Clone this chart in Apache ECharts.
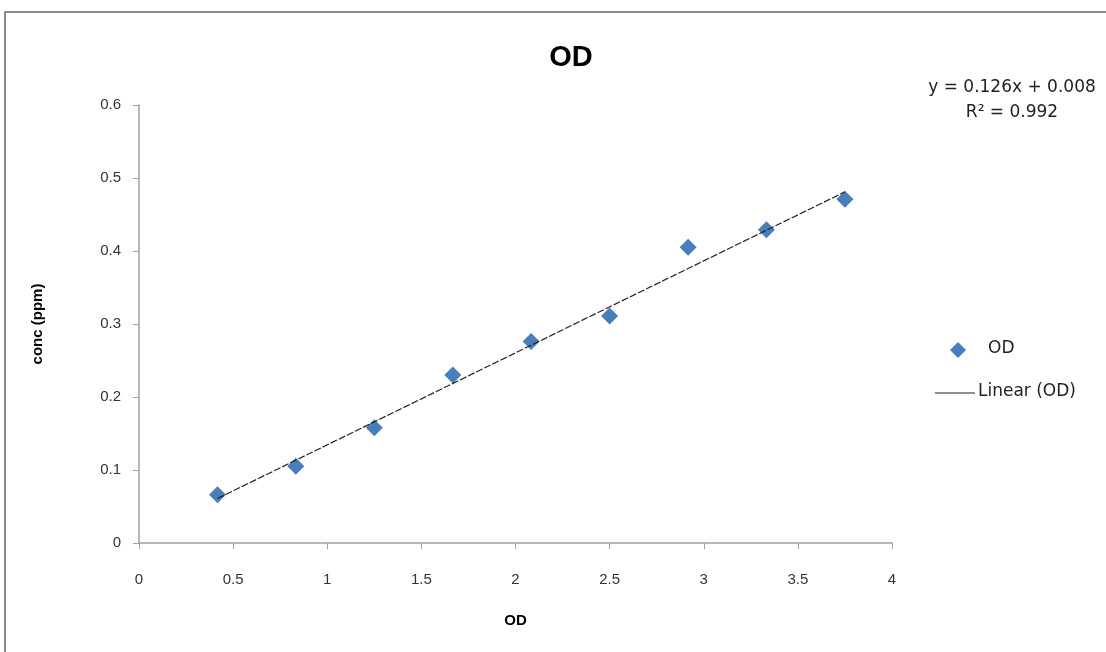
<!DOCTYPE html>
<html>
<head>
<meta charset="utf-8">
<script src="https://cdn.jsdelivr.net/npm/echarts@6/dist/echarts.min.js"></script>
<style>html,body{margin:0;padding:0;background:#fff;}#c{width:1106px;height:652px;}</style>
</head>
<body>
<div id="c"></div>
<script>
const odValues = [0.417, 0.833, 1.25, 1.667, 2.083, 2.5, 2.917, 3.333, 3.75];
const concValues = [0.066, 0.105, 0.158, 0.230, 0.276, 0.311, 0.405, 0.429, 0.471];
const trendX = [0.417, 3.75];
const trendY = [0.061, 0.481];
const equationText = 'y = 0.126x + 0.008';
const r2Text = 'R² = 0.992';
const titleText = 'OD';
const xAxisName = 'OD';
const yAxisName = 'conc (ppm)';
const seriesName = 'OD';
const trendName = 'Linear (OD)';

const font = 'Liberation Sans, Arial, sans-serif';
const wide = 'DejaVu Sans, Liberation Sans, sans-serif';
const chart = echarts.init(document.getElementById('c'), null, {renderer: 'canvas'});
chart.setOption({
  animation: false,
  backgroundColor: '#fff',
  title: {text: titleText, left: 566, top: 38, textAlign: 'center',
    textStyle: {fontFamily: font, fontSize: 29, fontWeight: 'bold', color: '#000'}},
  grid: {left: 139, right: 214, top: 105, bottom: 109},
  xAxis: {
    type: 'value', min: 0, max: 4, interval: 0.5,
    name: xAxisName, nameLocation: 'middle', nameGap: 70,
    nameTextStyle: {fontFamily: font, fontSize: 15, fontWeight: 'bold', color: '#000'},
    axisLine: {show: true, onZero: false, lineStyle: {color: '#a0a0a0', width: 1.5}},
    axisTick: {show: true, inside: false, length: 6, lineStyle: {color: '#a0a0a0'}},
    axisLabel: {fontFamily: font, fontSize: 15, color: '#333', margin: 29},
    splitLine: {show: false}
  },
  yAxis: {
    type: 'value', min: 0, max: 0.6, interval: 0.1,
    name: yAxisName, nameLocation: 'middle', nameGap: 94, nameRotate: 90,
    nameTextStyle: {fontFamily: font, fontSize: 15, fontWeight: 'bold', color: '#000'},
    axisLine: {show: true, lineStyle: {color: '#a0a0a0', width: 1.5}},
    axisTick: {show: true, inside: false, length: 6, lineStyle: {color: '#a0a0a0'}},
    axisLabel: {fontFamily: font, fontSize: 15, color: '#333', margin: 18,
      formatter: v => (Math.round(v * 10) / 10).toString()},
    splitLine: {show: false}
  },
  series: [
    {
      name: trendName, type: 'line', data: trendX.map((x, i) => [x, trendY[i]]),
      symbol: 'none', lineStyle: {color: '#222', width: 1.2, type: [7, 2]}, z: 3
    },
    {
      name: seriesName, type: 'scatter', data: odValues.map((x, i) => [x, concValues[i]]),
      symbol: 'diamond', symbolSize: [17, 17], itemStyle: {color: '#4a7ebb', opacity: 1}, z: 2
    }
  ],
  graphic: [
    {type: 'rect', shape: {x: 5, y: 12, width: 1110, height: 660}, style: {fill: 'none', stroke: '#8a8a8a', lineWidth: 2}, silent: true},
    {type: 'text', x: 1012, y: 79, style: {text: equationText, fontFamily: wide, fontSize: 17, fill: '#222', align: 'center'}},
    {type: 'text', x: 1012, y: 104, style: {text: r2Text, fontFamily: wide, fontSize: 17, fill: '#222', align: 'center'}},
    {type: 'polygon', shape: {points: [[958, 342], [966, 350], [958, 358], [950, 350]]}, style: {fill: '#4a7ebb'}},
    {type: 'text', x: 988, y: 340, style: {text: seriesName, fontFamily: wide, fontSize: 17, fill: '#222'}},
    {type: 'line', shape: {x1: 935, y1: 393, x2: 975, y2: 393}, style: {stroke: '#222', lineWidth: 1.2}},
    {type: 'text', x: 978, y: 383, style: {text: trendName, fontFamily: wide, fontSize: 17, fill: '#222'}}
  ]
});
</script>
</body>
</html>
